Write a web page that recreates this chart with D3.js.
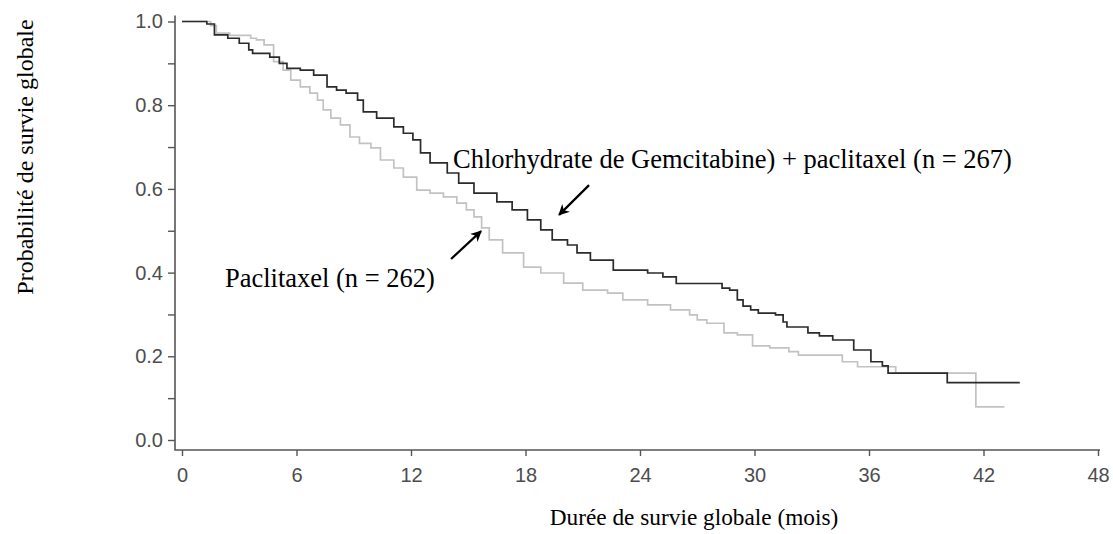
<!DOCTYPE html>
<html>
<head>
<meta charset="utf-8">
<script src="https://cdn.jsdelivr.net/npm/d3@7"></script>
<style>
    body { margin: 0; background: #fff; }
    svg { display: block; }
    .tick text { font-family: "Liberation Sans", Arial, sans-serif; font-size: 20px; fill: #4d4d4d; }
    .tick line { stroke: #555; stroke-width: 1.4px; }
    .frame { stroke: #555; stroke-width: 1.6px; fill: none; }
    .title, .note { font-family: "Liberation Serif", "Times New Roman", serif; fill: #000; }
</style>
</head>
<body>
<svg width="1113" height="534"></svg>
<script>
// Kaplan-Meier steps (months, survival probability)
const gemTimes = [0, 1.3, 1.7, 2.4, 3.0, 3.5, 3.7, 4.6, 5.1, 5.5, 6.2, 6.9, 7.6, 8.1, 8.6, 9.2, 9.5, 10.2, 11.1, 11.6,
    12.1, 12.5, 13.0, 13.9, 14.5, 15.3, 16.5, 17.3, 18.1, 18.8, 19.4, 20.2, 20.7, 21.4, 22.6, 24.4, 25.2, 25.9, 28.3,
    28.7, 29.1, 29.4, 29.8, 30.2, 31.1, 31.5, 31.7, 32.8, 33.4, 34.1, 35.2, 36.1, 36.7, 37.0, 40.1, 43.9];
const gemSurv = [1.0, 0.994, 0.968, 0.96, 0.948, 0.932, 0.924, 0.915, 0.9, 0.888, 0.884, 0.872, 0.844, 0.836, 0.829,
    0.812, 0.784, 0.769, 0.748, 0.733, 0.717, 0.686, 0.662, 0.638, 0.614, 0.59, 0.569, 0.55, 0.526, 0.502, 0.478,
    0.466, 0.447, 0.43, 0.406, 0.399, 0.39, 0.374, 0.363, 0.358, 0.335, 0.32, 0.311, 0.303, 0.299, 0.282, 0.27,
    0.256, 0.249, 0.239, 0.215, 0.187, 0.177, 0.16, 0.137, 0.137];

const pacTimes = [0, 1.5, 1.8, 2.5, 3.6, 3.9, 4.3, 4.8, 5.3, 5.7, 6.2, 6.7, 7.1, 7.4, 7.8, 8.3, 8.8, 9.3, 9.9, 10.4,
    11.1, 11.6, 12.3, 13.0, 13.7, 14.4, 14.9, 15.3, 15.7, 16.1, 16.8, 17.9, 18.8, 20.0, 21.0, 22.3, 23.1, 24.4, 25.6,
    26.6, 27.0, 27.5, 28.4, 29.1, 29.9, 30.8, 31.8, 32.3, 34.6, 35.4, 37.4, 41.6, 43.1];
const pacSurv = [1.0, 0.99, 0.972, 0.967, 0.96, 0.956, 0.944, 0.904, 0.884, 0.86, 0.844, 0.829, 0.812, 0.789, 0.769,
    0.753, 0.724, 0.709, 0.698, 0.669, 0.65, 0.628, 0.597, 0.59, 0.581, 0.566, 0.55, 0.533, 0.507, 0.478, 0.447,
    0.413, 0.399, 0.375, 0.358, 0.351, 0.335, 0.323, 0.311, 0.299, 0.287, 0.279, 0.256, 0.251, 0.225, 0.22, 0.211,
    0.203, 0.187, 0.175, 0.16, 0.079, 0.079];

// Axis ticks
const xTicks = [0, 6, 12, 18, 24, 30, 36, 42, 48];
const yTicks = [0, 0.2, 0.4, 0.6, 0.8, 1.0];
const yMinorTicks = [0.1, 0.3, 0.5, 0.7, 0.9];

// Labels and annotations (anchor in data units: month, probability)
const xTitle = 'Durée de survie globale (mois)';
const yTitle = 'Probabilité de survie globale';
const notes = [
    { text: 'Chlorhydrate de Gemcitabine) + paclitaxel (n = 267)', t: 14.2, s: 0.65 },
    { text: 'Paclitaxel (n = 262)', t: 2.25, s: 0.366 },
];
const arrows = [
    { from: [21.33, 0.609], to: [19.76, 0.538] },
    { from: [14.1, 0.4325], to: [15.67, 0.499] },
];

const svg = d3.select('svg');

// Scales
const x = d3.scaleLinear().domain([0, 48]).range([182, 1098]);
const y = d3.scaleLinear().domain([0, 1]).range([440, 21.5]);

// L-shaped frame (R style, axes slightly outside the data range)
const left = 175, bottom = 450;
svg.append('path')
    .attr('class', 'frame')
    .attr('d', `M${left},${y(1) - 6}V${bottom}H${x(48) + 2}`);

// Y axis
const yAxis = svg.append('g')
    .attr('transform', `translate(${left},0)`)
    .call(d3.axisLeft(y).tickValues(yTicks).tickFormat(d3.format('.1f')).tickSize(7).tickPadding(5));
yAxis.select('.domain').remove();

const yMinor = svg.append('g')
    .attr('transform', `translate(${left},0)`)
    .call(d3.axisLeft(y).tickValues(yMinorTicks).tickFormat('').tickSize(7));
yMinor.select('.domain').remove();

// X axis
const xAxis = svg.append('g')
    .attr('transform', `translate(0,${bottom})`)
    .call(d3.axisBottom(x).tickValues(xTicks).tickSize(6).tickPadding(12));
xAxis.select('.domain').remove();

// Axis titles
svg.append('text')
    .attr('class', 'title')
    .attr('x', (x(0) + x(48)) / 2 + 54)
    .attr('y', 525)
    .attr('text-anchor', 'middle')
    .style('font-size', '23.3px')
    .text(xTitle);

svg.append('text')
    .attr('class', 'title')
    .attr('transform', 'translate(33,157) rotate(-90)')
    .attr('text-anchor', 'middle')
    .style('font-size', '24px')
    .text(yTitle);

// Survival curves
const line = d3.line()
    .x(d => x(d[0]))
    .y(d => y(d[1]))
    .curve(d3.curveStepAfter);

const curves = [
    { name: 'paclitaxel', times: pacTimes, surv: pacSurv, colour: '#c2c2c2' },
    { name: 'gem', times: gemTimes, surv: gemSurv, colour: '#2b2b2b' },
];

svg.append('g')
    .selectAll('path')
    .data(curves)
    .join('path')
    .attr('fill', 'none')
    .attr('stroke', d => d.colour)
    .attr('stroke-width', 1.7)
    .attr('d', d => line(d.times.map((t, i) => [t, d.surv[i]])));

// Annotations
svg.append('defs').append('marker')
    .attr('id', 'head')
    .attr('viewBox', '0 0 10 10')
    .attr('refX', 9)
    .attr('refY', 5)
    .attr('markerWidth', 5)
    .attr('markerHeight', 5)
    .attr('orient', 'auto')
    .append('path')
    .attr('d', 'M0,0L10,5L0,10L3,5Z')
    .attr('fill', '#000');

svg.append('g')
    .selectAll('line')
    .data(arrows)
    .join('line')
    .attr('x1', d => x(d.from[0]))
    .attr('y1', d => y(d.from[1]))
    .attr('x2', d => x(d.to[0]))
    .attr('y2', d => y(d.to[1]))
    .attr('stroke', '#000')
    .attr('stroke-width', 2.2)
    .attr('marker-end', 'url(#head)');

svg.append('g')
    .selectAll('text')
    .data(notes)
    .join('text')
    .attr('class', 'note')
    .attr('x', d => x(d.t))
    .attr('y', d => y(d.s))
    .style('font-size', '26.5px')
    .text(d => d.text);
</script>
</body>
</html>
